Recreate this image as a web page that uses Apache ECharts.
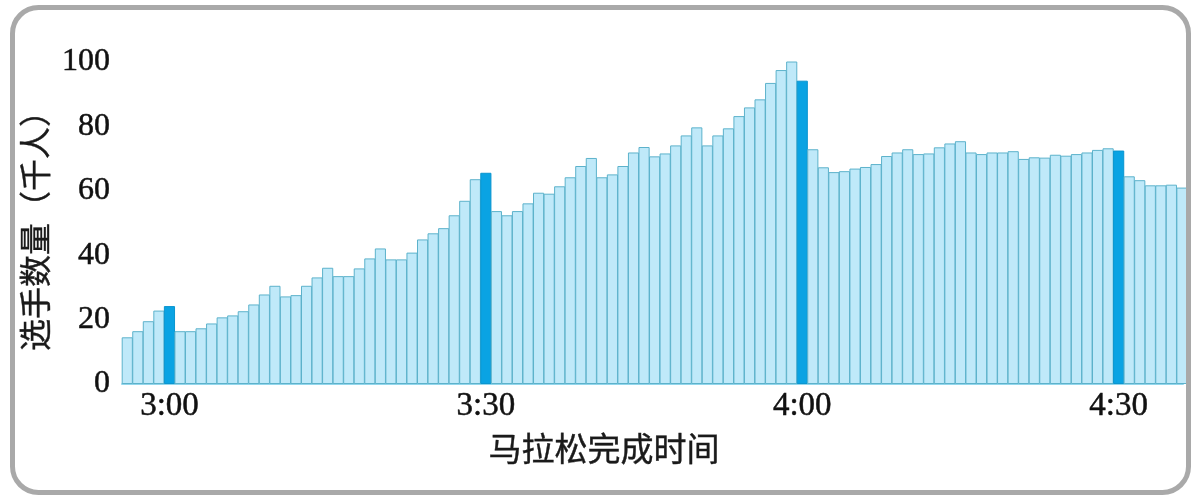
<!DOCTYPE html>
<html>
<head>
<meta charset="utf-8">
<script src="https://cdn.jsdelivr.net/npm/echarts@6/dist/echarts.min.js"></script>
<style>
  html, body { margin: 0; padding: 0; background: #fff; }
  #chart { width: 1198px; height: 503px; }
</style>
</head>
<body>
<div id="chart"></div>
<script>
// finishers per minute (thousands), first bar is 2:56
var firstMinute = -4;   // minutes relative to 3:00
var counts = [
  14.5, 16.4, 19.5, 22.8, 24.2, 16.4, 16.4, 17.3, 18.8, 20.7,
  21.3, 22.6, 24.7, 27.8, 30.5, 27.2, 27.6, 30.5, 33.1, 36.1,
  33.5, 33.5, 35.9, 39.0, 42.1, 38.7, 38.7, 40.8, 44.9, 46.8,
  48.4, 52.4, 56.9, 63.6, 65.6, 53.7, 52.4, 53.7, 56.1, 59.4,
  59.1, 61.4, 64.2, 67.7, 70.2, 64.2, 65.1, 67.7, 71.9, 73.6,
  70.7, 71.6, 74.1, 77.2, 79.7, 74.1, 77.2, 79.4, 83.2, 85.9,
  88.4, 93.5, 97.5, 100.2, 94.2, 72.9, 67.3, 65.8, 66.1, 66.9,
  67.4, 68.3, 70.8, 71.9, 72.9, 71.4, 71.6, 73.5, 74.7, 75.4,
  71.9, 71.4, 71.9, 71.9, 72.3, 69.9, 70.4, 70.3, 71.2, 70.9,
  71.4, 71.9, 72.7, 73.2, 72.5, 64.5, 63.3, 61.7, 61.7, 61.9,
  61.0
];
var markMinutes = [0, 30, 60, 90];          // round finishing times
var tickLabels = ['3:00', '3:30', '4:00', '4:30'];
var yTicks = [0, 20, 40, 60, 80, 100];

var numFont = "'Liberation Serif', 'Times New Roman', serif";
var cjkFont = "'Noto Sans CJK SC', sans-serif";

var W = 1198, gridLeft = 122, gridRight = 15;
var xMin = firstMinute - 0.5, xMax = 96.1;
// one minute wide, a hair more so the outlines touch
var barW = (W - gridLeft - gridRight) / (xMax - xMin) + 0.6;

var barData = [];
for (var i = 0; i < counts.length; i++) {
    var m = firstMinute + i;
    var item = { value: [m, counts[i]] };
    if (markMinutes.indexOf(m) >= 0) {
        item.itemStyle = { color: '#0aa3e3', borderColor: '#0a95cf' };
    }
    barData.push(item);
}

var numStyle = {
    fontFamily: numFont,
    color: '#111',
    textBorderColor: '#111',
    textBorderWidth: 0.5
};

var option = {
    animation: false,
    backgroundColor: '#fff',
    grid: { left: gridLeft, right: gridRight, top: 62, bottom: 119 },
    title: {
        text: '马拉松完成时间',
        left: 599,
        top: 427,
        textAlign: 'center',
        textStyle: {
            fontFamily: cjkFont, fontSize: 33, fontWeight: 'normal', color: '#1a1a1a',
            textBorderColor: '#1a1a1a', textBorderWidth: 0.4
        }
    },
    xAxis: {
        type: 'value',
        min: xMin,
        max: xMax,
        splitLine: { show: false },
        axisTick: { show: false },
        axisLine: { show: true, lineStyle: { color: '#93d6ec', width: 2 } },
        axisLabel: Object.assign({
            customValues: markMinutes,
            margin: 6,
            fontSize: 33,
            formatter: function (v) {
                return tickLabels[markMinutes.indexOf(v)];
            }
        }, numStyle)
    },
    yAxis: {
        type: 'value',
        min: 0,
        max: 100,
        interval: 20,
        name: '选手数量（千人）',
        nameLocation: 'middle',
        nameRotate: 90,
        nameGap: 63,
        nameTextStyle: {
            fontFamily: cjkFont, fontSize: 32, color: '#1a1a1a',
            textBorderColor: '#1a1a1a', textBorderWidth: 0.4
        },
        splitLine: { show: false },
        axisTick: { show: false },
        axisLine: { show: false },
        axisLabel: Object.assign({
            customValues: yTicks,
            margin: 12,
            fontSize: 32
        }, numStyle)
    },
    series: [{
        type: 'bar',
        data: barData,
        barWidth: barW,
        clip: true,
        itemStyle: {
            color: '#bfe9f9',
            borderColor: '#5cb2cb',
            borderWidth: 1
        }
    }],
    graphic: [{
        type: 'rect',
        shape: { x: 12.5, y: 7.5, width: 1176, height: 485, r: 26 },
        style: { fill: 'none', stroke: '#a9a9a9', lineWidth: 5 },
        silent: true,
        z: 100
    }]
};

var myChart = echarts.init(document.getElementById('chart'));
myChart.setOption(option);
</script>
</body>
</html>
